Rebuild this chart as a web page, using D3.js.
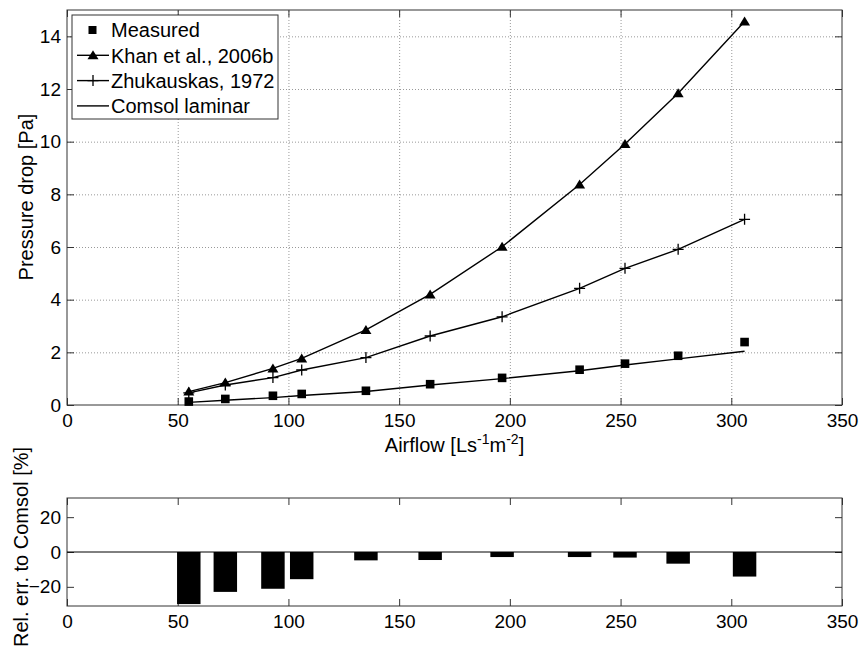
<!DOCTYPE html>
<html>
<head>
<meta charset="utf-8">
<script src="https://cdn.jsdelivr.net/npm/d3@7"></script>
<style>
  body { margin: 0; background: #fff; }
  svg text { font-family: "Liberation Sans", Arial, sans-serif; fill: #000; }
  .tick text { font-size: 19px; }
  .grid line { stroke: #999; stroke-dasharray: 1,2; }
</style>
</head>
<body>
<div id="chart"></div>
<script>
// Data
var airflow = [55, 71.5, 93, 106, 135, 164, 196.5, 231.5, 252, 276, 306];
var measured = [0.13, 0.23, 0.35, 0.42, 0.54, 0.79, 1.03, 1.34, 1.57, 1.87, 2.39];
var khan = [0.51, 0.85, 1.39, 1.77, 2.85, 4.2, 6.01, 8.37, 9.91, 11.84, 14.56];
var zhukauskas = [0.46, 0.76, 1.04, 1.33, 1.8, 2.62, 3.35, 4.43, 5.19, 5.91, 7.05];
var comsol = [0.1, 0.18, 0.28, 0.36, 0.51, 0.76, 1.0, 1.3, 1.52, 1.75, 2.04];
var relErr = [-29.9, -22.9, -21.1, -15.6, -4.8, -4.6, -2.9, -2.9, -3.2, -6.7, -14.1];

var xTicks = [0, 50, 100, 150, 200, 250, 300, 350];
var yTicksTop = [0, 2, 4, 6, 8, 10, 12, 14];
var yTicksBottom = [-20, 0, 20];

var svgWidth = 862;
var svgHeight = 654;

var svg = d3.select("#chart")
  .append("svg")
  .attr("width", svgWidth)
  .attr("height", svgHeight);

// panel geometry
var left = 67, right = 842;
var top1 = 10, bottom1 = 405;
var top2 = 498, bottom2 = 606;
var tickLen = 7;

var x = d3.scaleLinear().domain([0, 350]).range([left, right]);
var y1 = d3.scaleLinear().domain([0, 15]).range([bottom1, top1]);
var y2 = d3.scaleLinear().domain([-31, 31]).range([bottom2, top2]);

function drawFrame(yScale, yTicks, top, bottom, grid) {
  var g = svg.append("g");

  if (grid) {
    g.append("g")
      .attr("class", "grid")
      .attr("transform", `translate(0, ${bottom})`)
      .call(d3.axisBottom(x).tickValues(xTicks.slice(1, -1)).tickSize(-(bottom - top)).tickFormat(""))
      .call(a => a.select(".domain").remove());
    g.append("g")
      .attr("class", "grid")
      .attr("transform", `translate(${left}, 0)`)
      .call(d3.axisLeft(yScale).tickValues(yTicks.slice(1)).tickSize(-(right - left)).tickFormat(""))
      .call(a => a.select(".domain").remove());
  }

  // ticks pointing inward on all four sides
  var axes = [
    [d3.axisBottom(x).tickValues(xTicks).tickPadding(9), `translate(0, ${bottom})`],
    [d3.axisTop(x).tickValues(xTicks).tickFormat(""), `translate(0, ${top})`],
    [d3.axisLeft(yScale).tickValues(yTicks).tickPadding(6), `translate(${left}, 0)`],
    [d3.axisRight(yScale).tickValues(yTicks).tickFormat(""), `translate(${right}, 0)`]
  ];
  axes.forEach(function(a) {
    g.append("g")
      .attr("transform", a[1])
      .call(a[0].tickSizeInner(-tickLen).tickSizeOuter(0))
      .call(s => s.select(".domain").remove())
      .call(s => s.selectAll(".tick line").attr("stroke", "#333"));
  });

  g.append("rect")
    .attr("x", left)
    .attr("y", top)
    .attr("width", right - left)
    .attr("height", bottom - top)
    .attr("fill", "none")
    .attr("stroke", "#333")
    .attr("stroke-width", 1);

  return g;
}

// ---------- top panel ----------
drawFrame(y1, yTicksTop, top1, bottom1, true);

var line = function(vals) {
  return d3.line()
    .x((d, i) => x(airflow[i]))
    .y(d => y1(d))(vals);
};

var plot = svg.append("g");

[khan, zhukauskas, comsol].forEach(function(vals) {
  plot.append("path")
    .attr("d", line(vals))
    .attr("fill", "none")
    .attr("stroke", "#000")
    .attr("stroke-width", 1.4);
});

var triangle = "M0,-5L5.5,4L-5.5,4Z";
var plus = "M-5.5,0H5.5M0,-5.5V5.5";

plot.selectAll(".khan")
  .data(khan)
  .enter()
  .append("path")
  .attr("transform", (d, i) => `translate(${x(airflow[i])}, ${y1(d)})`)
  .attr("d", triangle)
  .attr("fill", "#000");

plot.selectAll(".zhuk")
  .data(zhukauskas)
  .enter()
  .append("path")
  .attr("transform", (d, i) => `translate(${x(airflow[i])}, ${y1(d)})`)
  .attr("d", plus)
  .attr("stroke", "#000")
  .attr("stroke-width", 1.3);

plot.selectAll(".meas")
  .data(measured)
  .enter()
  .append("rect")
  .attr("x", (d, i) => x(airflow[i]) - 4.3)
  .attr("y", d => y1(d) - 4.3)
  .attr("width", 8.6)
  .attr("height", 8.6)
  .attr("fill", "#000");

// legend
var legendNames = ["Measured", "Khan et al., 2006b", "Zhukauskas, 1972", "Comsol laminar"];
var legend = svg.append("g").attr("transform", "translate(72, 15)");
legend.append("rect")
  .attr("width", 206)
  .attr("height", 104)
  .attr("fill", "#fff")
  .attr("stroke", "#333");

legendNames.forEach(function(name, i) {
  var cy = 15 + i * 25.3;
  var row = legend.append("g").attr("transform", `translate(0, ${cy})`);
  if (i > 0) {
    row.append("line")
      .attr("x1", 5).attr("x2", 37)
      .attr("stroke", "#000").attr("stroke-width", 1.4);
  }
  if (i === 0) {
    row.append("rect").attr("x", 16.5).attr("y", -4).attr("width", 8).attr("height", 8).attr("fill", "#000");
  } else if (i === 1) {
    row.append("path").attr("transform", "translate(21, 0)").attr("d", triangle).attr("fill", "#000");
  } else if (i === 2) {
    row.append("path").attr("transform", "translate(21, 0)").attr("d", plus).attr("stroke", "#000").attr("stroke-width", 1.3);
  }
  row.append("text")
    .attr("x", 39)
    .attr("dy", "0.36em")
    .style("font-size", "20px")
    .text(name);
});

// axis labels
var xLabel = svg.append("text")
  .attr("x", (left + right) / 2)
  .attr("y", 452)
  .attr("text-anchor", "middle")
  .style("font-size", "20px");
xLabel.append("tspan").text("Airflow [Ls");
xLabel.append("tspan").attr("dy", -8).style("font-size", "14px").text("-1");
xLabel.append("tspan").attr("dy", 8).text("m");
xLabel.append("tspan").attr("dy", -8).style("font-size", "14px").text("-2");
xLabel.append("tspan").attr("dy", 8).text("]");

svg.append("text")
  .attr("transform", "translate(33, 197) rotate(-90)")
  .attr("text-anchor", "middle")
  .style("font-size", "20px")
  .text("Pressure drop [Pa]");

// ---------- bottom panel ----------
drawFrame(y2, yTicksBottom, top2, bottom2, false);

var barHalf = 5.3;
svg.append("g")
  .selectAll("rect")
  .data(relErr)
  .enter()
  .append("rect")
  .attr("x", (d, i) => x(airflow[i] - barHalf))
  .attr("width", (d, i) => x(airflow[i] + barHalf) - x(airflow[i] - barHalf))
  .attr("y", d => y2(Math.max(0, d)))
  .attr("height", d => Math.abs(y2(d) - y2(0)))
  .attr("fill", "#000");

svg.append("line")
  .attr("x1", left).attr("x2", right)
  .attr("y1", y2(0)).attr("y2", y2(0))
  .attr("stroke", "#000");

svg.append("text")
  .attr("transform", "translate(28, 547) rotate(-90)")
  .attr("text-anchor", "middle")
  .style("font-size", "20px")
  .text("Rel. err. to Comsol [%]");
</script>
</body>
</html>
